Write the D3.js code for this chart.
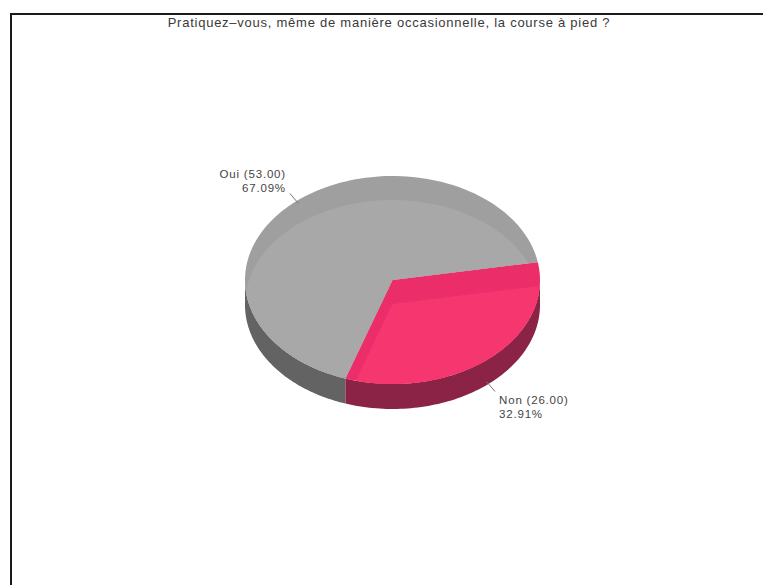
<!DOCTYPE html>
<html>
<head>
<meta charset="utf-8">
<script src="https://cdn.jsdelivr.net/npm/d3@7/dist/d3.min.js"></script>
<style>
  html, body { margin: 0; padding: 0; background: #fff; }
  svg { display: block; font-family: "Liberation Sans", Arial, sans-serif; }
</style>
</head>
<body>
<svg id="chart" width="763" height="585"></svg>
<script>
// Survey answers
const title = "Pratiquez\u2013vous, même de manière occasionnelle, la course à pied ?";
const categories = ["Oui", "Non"];
const counts = [53, 26];
const topColors = ["#9f9f9f", "#eb2e6a"];
const highlightColors = ["#a8a8a8", "#f6376f"];
const wallColors = ["#636363", "#8a2346"];

const svg = d3.select("#chart");
const W = 763, H = 585;

// outer frame
svg.append("rect")
  .attr("x", 11).attr("y", 14)
  .attr("width", W).attr("height", H)
  .attr("fill", "none").attr("stroke", "#1a1a1a").attr("stroke-width", 2);

svg.append("text")
  .attr("x", 389).attr("y", 27)
  .attr("text-anchor", "middle")
  .attr("font-size", 13)
  .attr("letter-spacing", 0.75)
  .attr("fill", "#3a3a3a")
  .text(title);

// 3D pie geometry
const cx = 392.5, cy = 280, rx = 147.5, ry = 104, depth = 25, bevel = 24;
const total = d3.sum(counts);
const startDeg = 198.6;
const pie = d3.pie().sort(null)
  .startAngle(startDeg * Math.PI / 180)
  .endAngle(startDeg * Math.PI / 180 + 2 * Math.PI);
const arcs = pie(counts);

// d3 angles run clockwise from 12 o'clock
const px = a => cx + rx * Math.sin(a);
const py = (a, dy = 0) => cy - ry * Math.cos(a) + dy;

function slicePath(d, dy = 0) {
  const p = d3.path();
  p.moveTo(cx, cy + dy);
  const n = 120;
  for (let i = 0; i <= n; i++) {
    const a = d.startAngle + (d.endAngle - d.startAngle) * i / n;
    p.lineTo(px(a), py(a, dy));
  }
  p.closePath();
  return p.toString();
}

// side wall: only the front half (angles between 90° and 270°, mod 360)
function wallPath(d) {
  const segs = [];
  const lo = Math.PI / 2, hi = 3 * Math.PI / 2;
  for (let k = -1; k <= 2; k++) {
    const a0 = Math.max(d.startAngle, lo + 2 * Math.PI * k);
    const a1 = Math.min(d.endAngle, hi + 2 * Math.PI * k);
    if (a1 > a0) segs.push([a0, a1]);
  }
  return segs.map(([a0, a1]) => {
    const p = d3.path();
    const n = 80;
    for (let i = 0; i <= n; i++) {
      const a = a0 + (a1 - a0) * i / n;
      i === 0 ? p.moveTo(px(a), py(a)) : p.lineTo(px(a), py(a));
    }
    for (let i = n; i >= 0; i--) {
      const a = a0 + (a1 - a0) * i / n;
      p.lineTo(px(a), py(a, depth));
    }
    p.closePath();
    return p.toString();
  }).join(" ");
}

const defs = svg.append("defs");
const gPie = svg.append("g");

gPie.selectAll("path.wall").data(arcs).join("path")
  .attr("class", "wall")
  .attr("d", wallPath)
  .attr("fill", (d, i) => wallColors[i]);

arcs.forEach((d, i) => {
  defs.append("clipPath").attr("id", "clip" + i)
    .append("path").attr("d", slicePath(d));
});

gPie.selectAll("path.top").data(arcs).join("path")
  .attr("class", "top")
  .attr("d", d => slicePath(d))
  .attr("fill", (d, i) => topColors[i]);

gPie.selectAll("path.hl").data(arcs).join("path")
  .attr("class", "hl")
  .attr("d", d => slicePath(d, bevel))
  .attr("clip-path", (d, i) => `url(#clip${i})`)
  .attr("fill", (d, i) => highlightColors[i]);

// labels with short leader lines
const gLab = svg.append("g").attr("font-size", 11.5).attr("letter-spacing", 0.8).attr("fill", "#444");
arcs.forEach((d, i) => {
  const a = (d.startAngle + d.endAngle) / 2;
  const front = Math.cos(a) < 0;
  const dy = front ? depth : 0;
  const x0 = px(a), y0 = py(a, dy);
  const ux = Math.sin(a), uy = -Math.cos(a);
  const x1 = x0 + ux * 10, y1 = y0 + uy * 10;
  svg.append("line")
    .attr("x1", x0 - ux * 3).attr("y1", y0 - uy * 3)
    .attr("x2", x1).attr("y2", y1)
    .attr("stroke", "#777").attr("stroke-width", 1);
  const right = ux > 0;
  const tx = right ? x1 + 4 : x1 - 4;
  const ty = right ? y1 + 12 : y1 - 15;
  const anchor = right ? "start" : "end";
  const pct = (counts[i] / total * 100).toFixed(2) + "%";
  gLab.append("text").attr("x", tx).attr("y", ty).attr("text-anchor", anchor)
    .text(`${categories[i]} (${counts[i].toFixed(2)})`);
  gLab.append("text").attr("x", tx).attr("y", ty + 14).attr("text-anchor", anchor)
    .text(pct);
});
</script>
</body>
</html>
